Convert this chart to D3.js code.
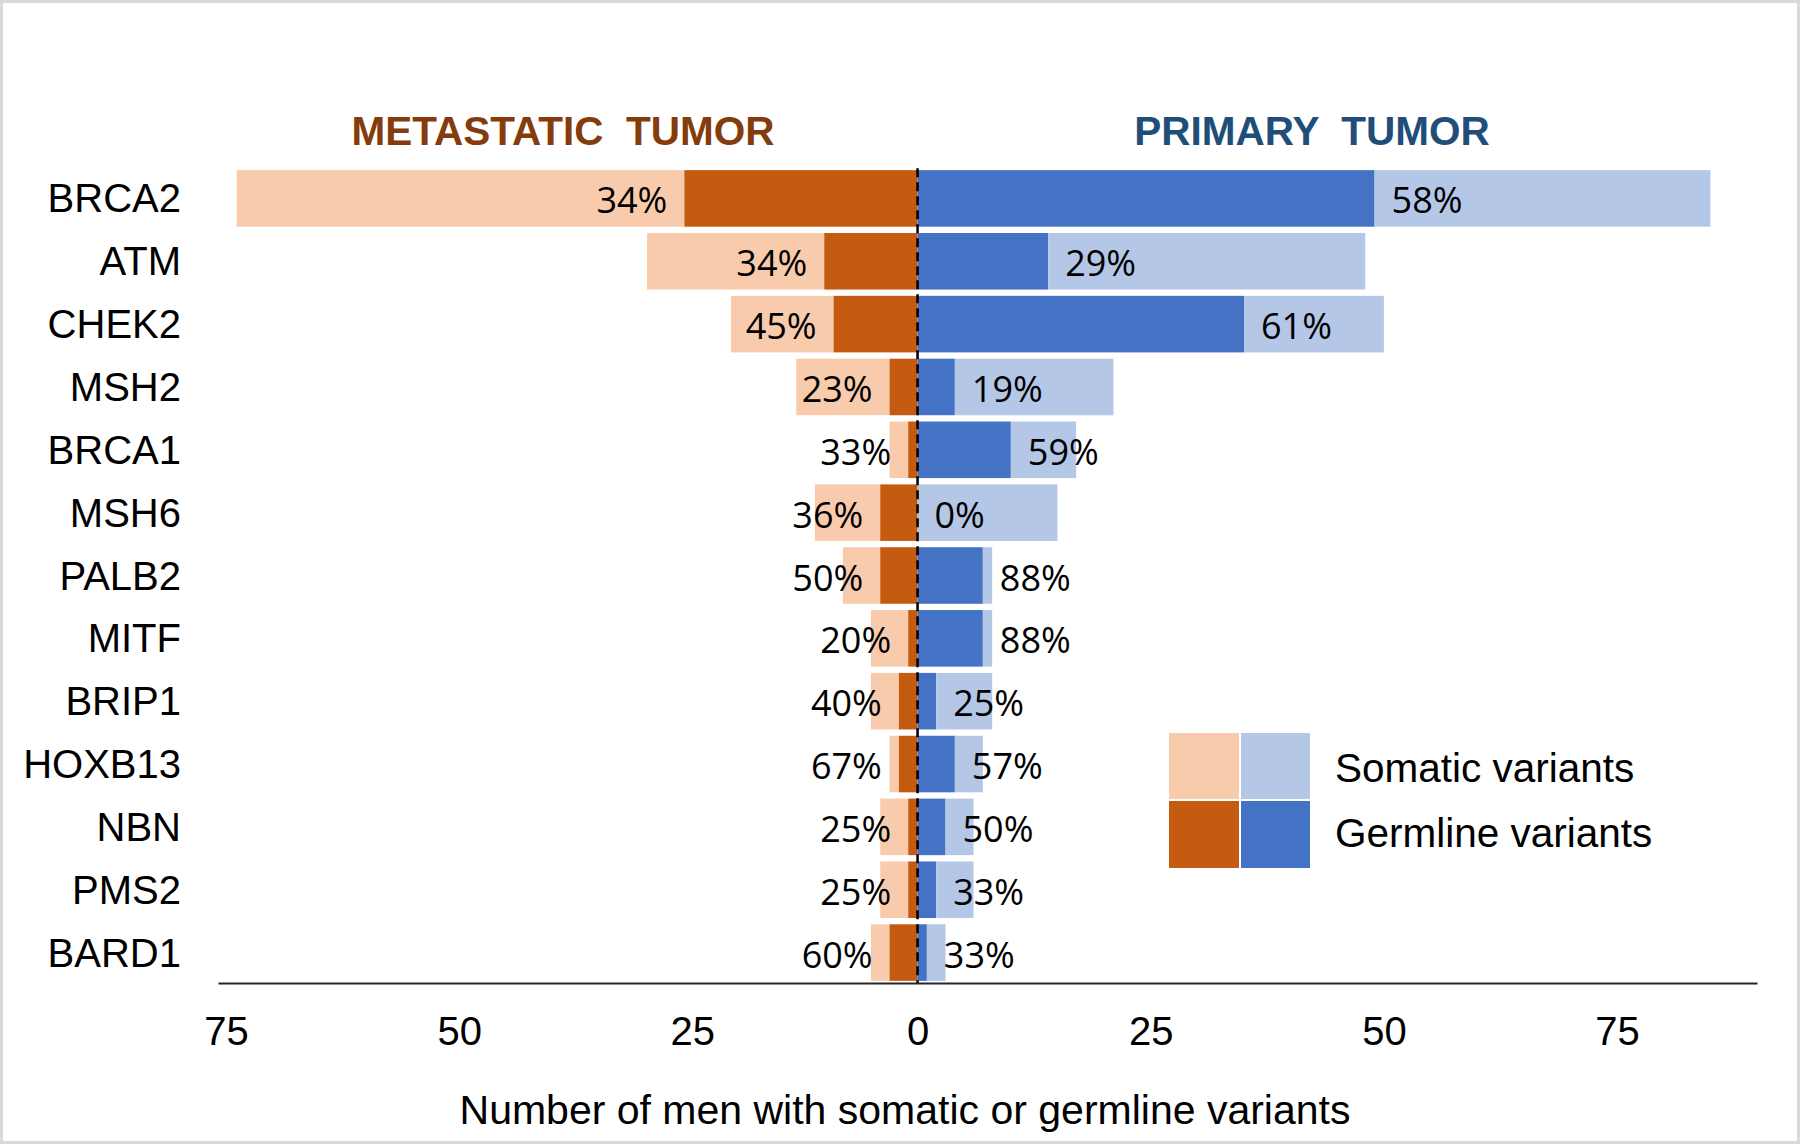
<!DOCTYPE html>
<html>
<head>
<meta charset="utf-8">
<script src="https://cdn.jsdelivr.net/npm/d3@7"></script>
<style>
  html, body { margin: 0; padding: 0; background: #fff; }
  svg { display: block; }
</style>
</head>
<body>
<svg id="chart" width="1800" height="1144"></svg>
<script>
// ---- data ----
const genes = ["BRCA2","ATM","CHEK2","MSH2","BRCA1","MSH6","PALB2","MITF","BRIP1","HOXB13","NBN","PMS2","BARD1"];
const metGermline = [25,10,9,3,1,4,4,1,2,2,1,1,3];
const metSomatic  = [48,19,11,10,2,7,4,4,3,1,3,3,2];
const priGermline = [49,14,35,4,10,0,7,7,2,4,3,2,1];
const priSomatic  = [36,34,15,17,7,15,1,1,6,3,3,4,2];
const metPct = ["34%","34%","45%","23%","33%","36%","50%","20%","40%","67%","25%","25%","60%"];
const priPct = ["58%","29%","61%","19%","59%","0%","88%","88%","25%","57%","50%","33%","33%"];
const tickValues = [-75,-50,-25,0,25,50,75];
const titles = ["METASTATIC  TUMOR", "PRIMARY  TUMOR"];
const legendLabels = ["Somatic variants", "Germline variants"];
const axisTitle = "Number of men with somatic or germline variants";

// ---- styles ----
const C = {
  metLight: "#F8CBAD", metDark: "#C55A11",
  priLight: "#B4C7E7", priDark: "#4472C4",
  metTitle: "#843C0C", priTitle: "#1F4E79"
};
const FONT = "'Liberation Sans', Arial, sans-serif";
const PFONT = "'Open Sans', 'Noto Sans', sans-serif";

const svg = d3.select("#chart");
svg.append("rect").attr("x",1.5).attr("y",1.5).attr("width",1797).attr("height",1141)
  .attr("fill","#fff").attr("stroke","#D9D9D9").attr("stroke-width",3);

const x = d3.scaleLinear().domain([-75, 90]).range([218, 1757]);
const y = d3.scaleBand().domain(genes).range([167, 984]).paddingInner(0.1).paddingOuter(0.05);

const rows = genes.map((g,i)=>({
  gene: g,
  mg: metGermline[i], ms: metSomatic[i],
  pg: priGermline[i], ps: priSomatic[i],
  mp: metPct[i], pp: priPct[i]
}));

const bars = svg.append("g");
bars.selectAll(".ms").data(rows).join("rect")
  .attr("x", d => x(-(d.mg + d.ms))).attr("y", d => y(d.gene))
  .attr("width", d => x(-d.mg) - x(-(d.mg + d.ms))).attr("height", y.bandwidth())
  .attr("fill", C.metLight);
bars.selectAll(".mg").data(rows).join("rect")
  .attr("x", d => x(-d.mg)).attr("y", d => y(d.gene))
  .attr("width", d => x(0) - x(-d.mg)).attr("height", y.bandwidth())
  .attr("fill", C.metDark);
bars.selectAll(".pg").data(rows).join("rect")
  .attr("x", x(0)).attr("y", d => y(d.gene))
  .attr("width", d => x(d.pg) - x(0)).attr("height", y.bandwidth())
  .attr("fill", C.priDark);
bars.selectAll(".ps").data(rows).join("rect")
  .attr("x", d => x(d.pg)).attr("y", d => y(d.gene))
  .attr("width", d => x(d.pg + d.ps) - x(d.pg)).attr("height", y.bandwidth())
  .attr("fill", C.priLight);

// percentage labels
const lab = svg.append("g").attr("font-family", PFONT).attr("font-size", 36).attr("fill", "#000");
lab.selectAll(".ml").data(rows).join("text")
  .attr("x", d => x(-d.mg) - 17).attr("y", d => y(d.gene) + y.bandwidth()/2 + 15)
  .attr("text-anchor","end").text(d => d.mp);
lab.selectAll(".pl").data(rows).join("text")
  .attr("x", d => x(d.pg) + 17).attr("y", d => y(d.gene) + y.bandwidth()/2 + 15)
  .attr("text-anchor","start").text(d => d.pp);

// zero dashed line
svg.append("line").attr("x1", x(0)).attr("x2", x(0))
  .attr("y1", y(genes[0]) - 2).attr("y2", 984)
  .attr("stroke","#000").attr("stroke-width",2.5).attr("stroke-dasharray","9,5");

// x axis
const ax = svg.append("g").attr("transform","translate(0,983)")
  .call(d3.axisBottom(x).tickValues(tickValues).tickSize(0).tickFormat(d => Math.abs(d)));
ax.select(".domain").attr("stroke","#262626").attr("stroke-width",2);
ax.selectAll("text").attr("font-family", FONT).attr("font-size", 40).attr("fill","#000")
  .attr("y", 62).attr("dy", 0).attr("dx", d => d < 0 ? 8 : 0);

// gene labels
svg.append("g").selectAll("text").data(genes).join("text")
  .attr("x", 181).attr("y", d => y(d) + y.bandwidth()/2 + 14)
  .attr("text-anchor","end").attr("font-family", FONT).attr("font-size", 40).attr("fill","#000")
  .text(d => d);

// titles
svg.append("text").attr("x", 563).attr("y", 145).attr("text-anchor","middle")
  .attr("font-family", FONT).attr("font-size", 40.5).attr("font-weight","bold")
  .attr("fill", C.metTitle).style("white-space","pre").text(titles[0]);
svg.append("text").attr("x", 1312).attr("y", 145).attr("text-anchor","middle")
  .attr("font-family", FONT).attr("font-size", 40.5).attr("font-weight","bold")
  .attr("fill", C.priTitle).style("white-space","pre").text(titles[1]);

// axis title
svg.append("text").attr("x", 905).attr("y", 1124).attr("text-anchor","middle")
  .attr("font-family", FONT).attr("font-size", 41).attr("fill","#000").text(axisTitle);

// legend
const lg = svg.append("g");
const sq = [
  {x:1169, y:733, w:70, h:66, c:C.metLight},
  {x:1241, y:733, w:69, h:66, c:C.priLight},
  {x:1169, y:801, w:70, h:67, c:C.metDark},
  {x:1241, y:801, w:69, h:67, c:C.priDark}
];
lg.selectAll("rect").data(sq).join("rect")
  .attr("x", d=>d.x).attr("y", d=>d.y).attr("width", d=>d.w).attr("height", d=>d.h).attr("fill", d=>d.c);
lg.selectAll("text").data(legendLabels).join("text")
  .attr("x", 1335).attr("y", (d,i) => 782 + i*65)
  .attr("font-family", FONT).attr("font-size", 40.5).attr("fill","#000").text(d => d);
</script>
</body>
</html>
